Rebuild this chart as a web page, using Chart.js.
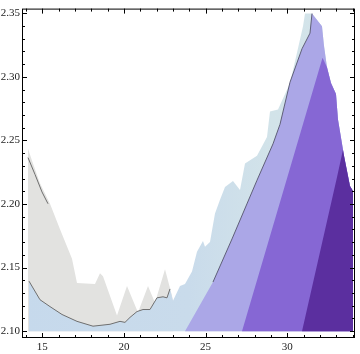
<!DOCTYPE html>
<html>
<head>
<meta charset="utf-8">
<script src="https://cdn.jsdelivr.net/npm/chart.js@4"></script>
<style>
  html, body { margin:0; padding:0; background:#fff; }
  #wrap { width:360px; height:354px; position:relative; }
</style>
</head>
<body>
<div id="wrap"><canvas id="c"></canvas></div>
<script>
// tick labels
const xTicks = [15, 20, 25, 30];
const yTicks = [2.10, 2.15, 2.20, 2.25, 2.30, 2.35];

// gray band (upper left), top edge
const grayX = [14.124, 14.43, 14.859, 15.472, 16.084, 16.819, 17.125, 18.227, 18.533, 18.717, 19.575, 20.187, 20.86, 21.473, 21.902, 22.514, 22.942, 23.003];
const grayY = [2.2434, 2.2318, 2.2164, 2.2002, 2.1802, 2.157, 2.1378, 2.137, 2.1455, 2.1432, 2.1123, 2.1355, 2.1146, 2.1355, 2.1224, 2.1486, 2.1278, 2.1239];

// lower contour line (gray / blue boundary)
const lowLineX = [14.186, 14.859, 15.472, 16.206, 17.125, 18.105, 19.146, 19.758, 20.064, 20.37, 20.799, 21.166, 21.595, 22.024, 22.392, 22.636, 22.82];
const lowLineY = [2.1393, 2.1247, 2.1193, 2.1131, 2.1077, 2.1039, 2.1054, 2.1077, 2.1069, 2.1108, 2.1154, 2.117, 2.117, 2.1262, 2.127, 2.1262, 2.1332];

// upper contour line (left)
const upLineX = [14.124, 14.553, 14.98, 15.349];
const upLineY = [2.2365, 2.2233, 2.2095, 2.2002];

// blue band: left edge of the ridge, continuing from the low contour line
const blueX = [23.003, 23.432, 23.738, 24.167, 24.473, 24.84, 24.963, 25.269, 25.575, 25.882, 26.188, 26.678, 27.107, 27.413, 28.148, 28.76, 28.944, 29.434, 30.169, 30.597, 30.965, 31.087, 31.516];
const blueY = [2.1239, 2.1355, 2.137, 2.147, 2.1625, 2.1709, 2.1663, 2.1702, 2.1925, 2.2033, 2.2133, 2.218, 2.211, 2.2318, 2.238, 2.2527, 2.2727, 2.2743, 2.2951, 2.319, 2.3398, 2.3498, 2.3498];

// right outer edge, from the peak down
const edgeX = [32.128, 32.25, 32.434, 32.679, 32.985, 33.107, 33.352, 33.474, 33.842, 34.026, 34.026];
const edgeY = [2.3398, 2.3244, 2.3075, 2.2951, 2.2866, 2.2665, 2.2473, 2.238, 2.2141, 2.2102, 2.100];

// lavender band left edge (with contour line)
const lavX = [23.738, 25.453, 26.617, 28.148, 29.128, 29.557, 30.169, 30.904, 31.394, 31.516];
const lavY = [2.100, 2.1386, 2.1725, 2.2187, 2.2473, 2.2627, 2.2958, 2.3221, 2.3344, 2.3498];

// medium purple band left edge
const midX = [27.229, 32.16];
const midY = [2.100, 2.315];

// dark purple band left edge
const darkX = [30.904, 33.046, 33.413];
const darkY = [2.100, 2.221, 2.2427];

const pts = (xs, ys) => xs.map((x, i) => ({ x, y: ys[i] }));
const edgeFrom = x0 => pts(edgeX, edgeY).filter(p => p.x > x0);

// blue shifts a little paler towards the right
function blueFill(ctx) {
  const a = ctx.chart.chartArea;
  if (!a) return '#cadcea';
  const g = ctx.chart.ctx.createLinearGradient(a.left, 0, a.right, 0);
  g.addColorStop(0, '#c6d9ec');
  g.addColorStop(0.5, '#c9dbeb');
  g.addColorStop(0.75, '#d2e3e9');
  g.addColorStop(1, '#d4e4ea');
  return g;
}

const base = { showLine: true, pointRadius: 0, borderWidth: 0, tension: 0, fill: { value: 2.10 } };

const datasets = [
  { ...base, data: pts(lowLineX, lowLineY), borderColor: '#6f6f6f', borderWidth: 1, fill: false, order: 0 },
  { ...base, data: pts(upLineX, upLineY), borderColor: '#6f6f6f', borderWidth: 1, fill: false, order: 0 },
  { ...base, data: pts(lavX, lavY).slice(1), borderColor: '#5f5f78', borderWidth: 1, fill: false, order: 0 },
  { ...base, data: pts(darkX, darkY).concat(edgeFrom(33.413)), backgroundColor: '#5b2f9f', order: 1 },
  { ...base, data: pts(midX, midY).concat(edgeFrom(32.3)), backgroundColor: '#8667d4', order: 2 },
  { ...base, data: pts(lavX, lavY).concat(edgeFrom(31.6)), backgroundColor: '#aba7e7', order: 3 },
  { ...base, data: pts(lowLineX, lowLineY).concat(pts(blueX, blueY), edgeFrom(31.6)), backgroundColor: blueFill, order: 4 },
  { ...base, data: pts(grayX, grayY), backgroundColor: '#e2e2e0', order: 5 }
];

// frame with inward ticks on all four sides
const frame = {
  id: 'frame',
  afterDatasetsDraw(chart) {
    const { ctx, chartArea: a, scales: { x, y } } = chart;
    ctx.save();
    ctx.strokeStyle = '#000';
    ctx.lineWidth = 1;
    ctx.strokeRect(a.left + 0.5, a.top + 0.5, a.right - a.left - 1, a.bottom - a.top - 1);
    ctx.beginPath();
    for (let v = 14; v <= 34; v++) {
      const px = Math.round(x.getPixelForValue(v)) + 0.5;
      const len = xTicks.includes(v) ? 5 : 3;
      ctx.moveTo(px, a.bottom); ctx.lineTo(px, a.bottom - len);
      ctx.moveTo(px, a.top); ctx.lineTo(px, a.top + len);
    }
    for (let k = 210; k <= 235; k++) {
      const v = k / 100;
      const py = Math.round(y.getPixelForValue(v)) + 0.5;
      const len = k % 5 === 0 ? 5 : 3;
      ctx.moveTo(a.left, py); ctx.lineTo(a.left + len, py);
      ctx.moveTo(a.right, py); ctx.lineTo(a.right - len, py);
    }
    ctx.stroke();
    ctx.restore();
  }
};

const font = { family: 'Liberation Serif', size: 11 };

new Chart(document.getElementById('c'), {
  type: 'scatter',
  data: { datasets },
  options: {
    responsive: true,
    maintainAspectRatio: false,
    animation: false,
    devicePixelRatio: 1,
    layout: { padding: { left: 0, right: 5, top: 2, bottom: 0 } },
    plugins: { legend: { display: false }, tooltip: { enabled: false } },
    scales: {
      x: {
        type: 'linear', min: 13.757, max: 34.149,
        grid: { display: false, drawTicks: false }, border: { display: false },
        afterBuildTicks: s => { s.ticks = xTicks.map(v => ({ value: v })); },
        afterFit: s => { s.height = 16; },
        ticks: { font, color: '#222', padding: 3, maxRotation: 0 }
      },
      y: {
        type: 'linear', min: 2.0946, max: 2.3537,
        grid: { display: false, drawTicks: false }, border: { display: false },
        afterBuildTicks: s => { s.ticks = yTicks.map(v => ({ value: v })); },
        afterFit: s => { s.width = 22; },
        ticks: { font, color: '#222', padding: 2, callback: v => v.toFixed(2) }
      }
    }
  },
  plugins: [frame]
});
</script>
</body>
</html>
